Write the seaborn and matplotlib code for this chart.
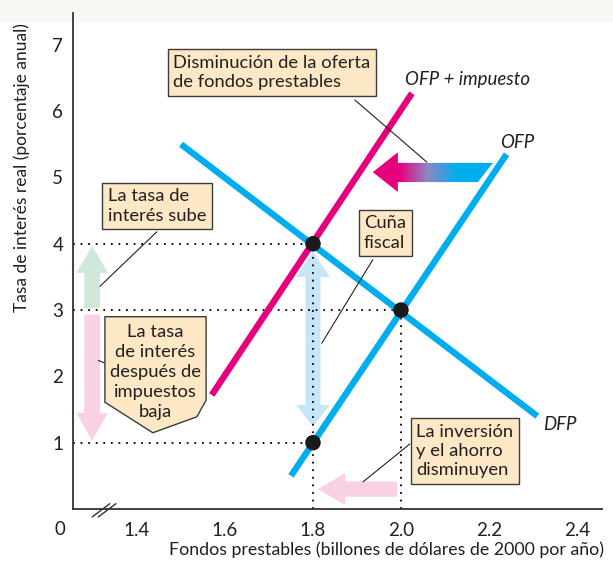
import matplotlib
matplotlib.use("Agg")
import matplotlib.pyplot as plt
import numpy as np
import pandas as pd
import seaborn as sns
from matplotlib.colors import LinearSegmentedColormap
from matplotlib.patches import FancyArrow, Polygon, Rectangle

# ---- chart data ----
ofp_x = [1.75, 2.24]
ofp_y = [0.50, 5.35]
ofp_tax_x = [1.57, 2.025]
ofp_tax_y = [1.72, 6.27]
dfp_x = [1.50, 2.31]
dfp_y = [5.50, 1.40]
eq_x = [1.8, 2.0, 1.8]
eq_y = [4.0, 3.0, 1.0]
x_ticks = [1.4, 1.6, 1.8, 2.0, 2.2, 2.4]
x_tick_labels = ["1.4", "1.6", "1.8", "2.0", "2.2", "2.4"]
y_ticks = [1, 2, 3, 4, 5, 6, 7]

MAGENTA = "#e6007e"
CYAN = "#00aeef"
BOX_FC = "#fde8c6"
BOX_EC = "#3c3c3c"
XMIN, XMAX = 1.2545, 2.457
YMIN, YMAX = 0.0, 7.48

sns.set_theme(style="white")
plt.rcParams["font.family"] = ["Lato", "DejaVu Sans"]

fig = plt.figure(figsize=(6.13, 5.65), dpi=100)
fig.patches.append(Rectangle((0, 1 - 21 / 565), 1, 21 / 565, transform=fig.transFigure,
                             color="#f7f7f4", zorder=-5))
ax = fig.add_axes([73 / 613, 1 - 509 / 565, (602 - 73) / 613, (509 - 13) / 565])
ax.patch.set_alpha(0)

# curves
curves = pd.DataFrame({
    "x": ofp_x + ofp_tax_x + dfp_x,
    "y": ofp_y + ofp_tax_y + dfp_y,
    "curve": ["OFP"] * 2 + ["OFP + impuesto"] * 2 + ["DFP"] * 2,
})
sns.lineplot(data=curves, x="x", y="y", hue="curve", units="curve", estimator=None,
             palette={"OFP": CYAN, "OFP + impuesto": MAGENTA, "DFP": CYAN},
             linewidth=4.6, legend=False, ax=ax, zorder=3, solid_capstyle="butt")

# dotted guides
dot = dict(color="black", linestyle=(0, (1, 3.2)), linewidth=1.3, zorder=1)
ax.plot([XMIN, eq_x[0]], [eq_y[0], eq_y[0]], **dot)
ax.plot([XMIN, eq_x[1]], [eq_y[1], eq_y[1]], **dot)
ax.plot([XMIN, eq_x[2]], [eq_y[2], eq_y[2]], **dot)
ax.plot([eq_x[0], eq_x[0]], [YMIN, eq_y[0]], **dot)
ax.plot([eq_x[1], eq_x[1]], [YMIN, eq_y[1]], **dot)

# equilibrium points
sns.scatterplot(x=eq_x, y=eq_y, s=125, color="#1a1a1a", edgecolor="none", ax=ax, zorder=6)

# movement arrows
ax.add_patch(FancyArrow(1.298, 3.03, 0, 0.94, width=0.036, head_width=0.072, head_length=0.41,
                        length_includes_head=True, color="#cfe8d8", lw=0, zorder=0))
ax.add_patch(FancyArrow(1.298, 2.93, 0, -1.90, width=0.036, head_width=0.072, head_length=0.42,
                        length_includes_head=True, color="#f8d2e4", lw=0, zorder=0))
ax.add_patch(FancyArrow(1.80, 2.56, 0, 1.32, width=0.034, head_width=0.077, head_length=0.38,
                        length_includes_head=True, color="#c6e6f7", lw=0, zorder=0))
ax.add_patch(FancyArrow(1.80, 2.56, 0, -1.32, width=0.034, head_width=0.077, head_length=0.33,
                        length_includes_head=True, color="#c6e6f7", lw=0, zorder=0))
ax.add_patch(FancyArrow(1.991, 0.30, -0.18, 0, width=0.23, head_width=0.48, head_length=0.062,
                        length_includes_head=True, color="#f8d2e4", lw=0, zorder=2))

# gradient shift arrow
grad_poly = Polygon([(1.936, 5.08), (1.993, 5.38), (1.993, 5.22), (2.209, 5.22),
                     (2.175, 4.93), (1.993, 4.93), (1.993, 4.78)],
                    closed=True, facecolor="none", edgecolor="none")
ax.add_patch(grad_poly)
cmap = LinearSegmentedColormap.from_list(
    "shift", [(0, MAGENTA), (0.22, MAGENTA), (0.45, "#8f86c2"), (0.7, CYAN), (1, CYAN)])
img = ax.imshow(np.linspace(0, 1, 256).reshape(1, -1), cmap=cmap, aspect="auto",
                extent=[1.936, 2.209, 4.78, 5.38], zorder=4, interpolation="bilinear")
img.set_clip_path(grad_poly)

# leader lines
leaders = [
    ([1.895, 2.059], [6.17, 5.23]),
    ([1.445, 1.316], [4.18, 3.36]),
    ([1.936, 1.82], [3.76, 2.50]),
    ([2.02, 1.914], [0.98, 0.41]),
    ([1.327, 1.312], [2.20, 2.24]),
]
for lx, ly in leaders:
    ax.plot(lx, ly, color="#222222", linewidth=0.8, zorder=5)

# annotation boxes
box = dict(boxstyle="square,pad=0.3", fc=BOX_FC, ec=BOX_EC, lw=1.0)
txt = dict(fontsize=13.2, color="#231f20", ha="center", va="center",
           multialignment="left", linespacing=1.26, bbox=box, zorder=7)
ax.text(1.707, 6.58, "Disminución de la oferta\nde fondos prestables", **txt)
ax.text(1.445, 4.57, "La tasa de\ninterés sube", **txt)
ax.text(1.964, 4.16, "Cuña\nfiscal", **txt)
ax.text(2.145, 0.875, "La inversión\ny el ahorro\ndisminuyen", **txt)

ax.add_patch(Polygon([(1.327, 2.90), (1.557, 2.90), (1.557, 1.64), (1.536, 1.39),
                      (1.436, 1.15), (1.327, 1.61)], closed=True,
                     fc=BOX_FC, ec=BOX_EC, lw=1.0, zorder=6))
ax.text(1.441, 2.07, "La tasa\nde interés\ndespués de\nimpuestos\nbaja", fontsize=13.2,
        color="#231f20", ha="center", va="center", linespacing=1.3, zorder=7)

# curve labels
lab = dict(fontsize=13.4, style="italic", color="#231f20", zorder=7)
ax.text(2.009, 6.47, "OFP + impuesto", ha="left", va="center", **lab)
ax.text(2.225, 5.52, "OFP", ha="left", va="center", **lab)
ax.text(2.322, 1.27, "DFP", ha="left", va="center", **lab)

# axes styling
ax.set_xlim(XMIN, XMAX)
ax.set_ylim(YMIN, YMAX)
ax.set_xticks(x_ticks)
ax.set_xticklabels(x_tick_labels)
ax.set_yticks(y_ticks)
for side in ["top", "right"]:
    ax.spines[side].set_visible(False)
for side in ["left", "bottom"]:
    ax.spines[side].set_color("#333333")
    ax.spines[side].set_linewidth(1.3)
ax.tick_params(axis="both", direction="in", length=6, width=1.2, color="#333333",
               labelsize=13.5, labelcolor="#231f20")
ax.tick_params(axis="x", pad=9)
ax.tick_params(axis="y", pad=7)
ax.set_xlabel("")
ax.set_ylabel("")
ax.text(1.225, -0.31, "0", fontsize=13.5, color="#231f20", ha="center", va="center",
        clip_on=False)

# axis break
for off in [0.0, 0.014]:
    ax.plot([1.298 + off, 1.338 + off], [-0.12, 0.08], color="#333333", linewidth=1.0,
            clip_on=False, zorder=8)

fig.text(604 / 613, 1 - 550 / 565, "Fondos prestables (billones de dólares de 2000 por año)",
         ha="right", va="center", fontsize=12.8, color="#231f20")
fig.text(22 / 613, 1 - 168 / 565, "Tasa de interés real (porcentaje anual)", rotation=90,
         ha="center", va="center", fontsize=12.5, color="#231f20")

fig.savefig("out.png", dpi=100)
